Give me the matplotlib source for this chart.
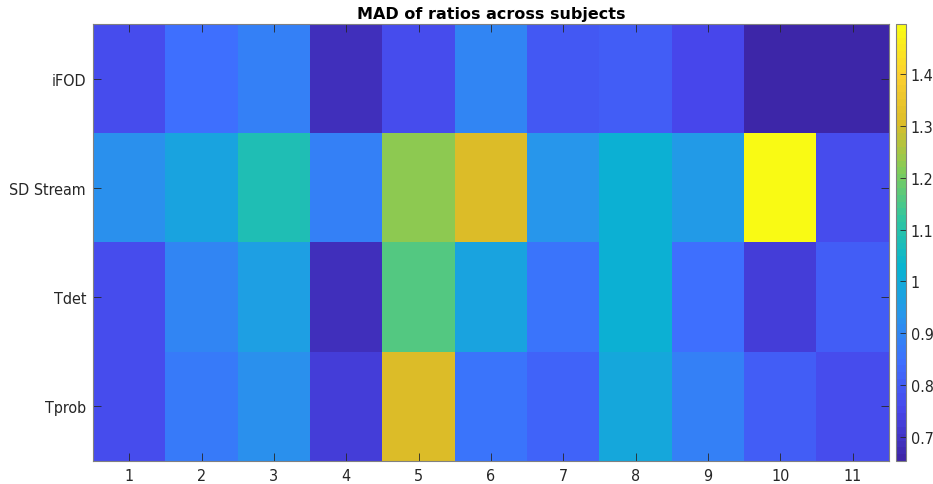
import numpy as np
import matplotlib.pyplot as plt
from matplotlib.colors import LinearSegmentedColormap

methods = ['iFOD', 'SD Stream', 'Tdet', 'Tprob']
subjects = [1, 2, 3, 4, 5, 6, 7, 8, 9, 10, 11]

ifod = [0.76, 0.84, 0.89, 0.69, 0.76, 0.90, 0.79, 0.81, 0.75, 0.665, 0.654]
sd_stream = [0.92, 0.97, 1.08, 0.88, 1.22, 1.30, 0.94, 1.02, 0.95, 1.496, 0.77]
tdet = [0.76, 0.90, 0.96, 0.69, 1.16, 0.97, 0.86, 1.01, 0.84, 0.73, 0.81]
tprob = [0.76, 0.87, 0.92, 0.72, 1.30, 0.86, 0.82, 0.99, 0.88, 0.81, 0.77]

plt.rcParams['font.stretch'] = 'condensed'

# parula-like colormap, 64 levels like the MATLAB default
parula_pts = [
    (0.2422, 0.1504, 0.6603),
    (0.2803, 0.2782, 0.9221),
    (0.2440, 0.4358, 0.9988),
    (0.1540, 0.5902, 0.9218),
    (0.0297, 0.7082, 0.8163),
    (0.1938, 0.7758, 0.6251),
    (0.5044, 0.7993, 0.3480),
    (0.8634, 0.7406, 0.1596),
    (0.9892, 0.8136, 0.1885),
    (0.9769, 0.9839, 0.0805),
]
parula = LinearSegmentedColormap.from_list('parula', parula_pts, N=64)

data = np.array([ifod, sd_stream, tdet, tprob])

fig = plt.figure(figsize=(9.33, 4.85), dpi=100)
ax = fig.add_axes([93 / 933, 1 - 462 / 485, 796 / 933, 437 / 485])
cax = fig.add_axes([896 / 933, 1 - 462 / 485, 10 / 933, 437 / 485])

im = ax.imshow(data, cmap=parula, aspect='auto',
               vmin=data.min(), vmax=data.max(),
               extent=[0.5, len(subjects) + 0.5, len(methods) + 0.5, 0.5])

ax.set_xticks(subjects)
ax.set_xticklabels([str(s) for s in subjects])
ax.set_yticks(range(1, len(methods) + 1))
ax.set_yticklabels(methods)
ax.tick_params(direction='in', length=5.5, width=0.6, colors='#262626',
               labelsize=11.5, top=True, right=True, pad=5)
for side in ax.spines.values():
    side.set_color('#808080')
    side.set_linewidth(0.8)
ax.set_title('MAD of ratios across subjects', fontsize=11.5,
             fontweight='bold', fontstretch='normal', pad=4)

cb = fig.colorbar(im, cax=cax)
cb.set_ticks([0.7, 0.8, 0.9, 1.0, 1.1, 1.2, 1.3, 1.4])
cb.set_ticklabels(['0.7', '0.8', '0.9', '1', '1.1', '1.2', '1.3', '1.4'])
cb.ax.tick_params(direction='in', length=4, width=0.6, colors='#262626',
                  labelsize=11.5)
cb.outline.set_edgecolor('#808080')
cb.outline.set_linewidth(0.8)

fig.savefig('out.png', dpi=100)
